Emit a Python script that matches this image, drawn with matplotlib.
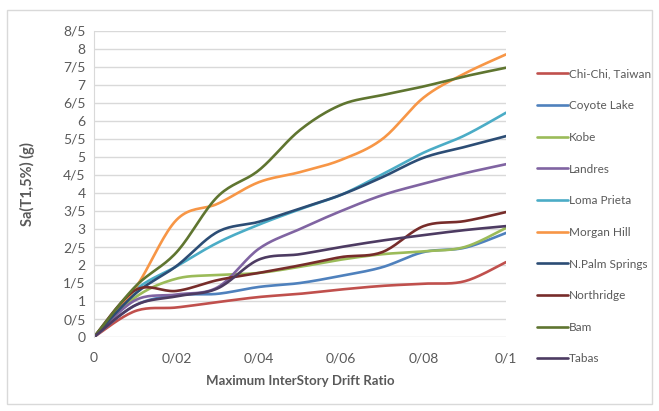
import numpy as np
import matplotlib.pyplot as plt
from matplotlib.patches import Rectangle

# drift ratio steps
drift = [0, 0.01, 0.02, 0.03, 0.04, 0.05, 0.06, 0.07, 0.08, 0.09, 0.1]

chichi = [0, 0.72, 0.82, 0.97, 1.11, 1.2, 1.32, 1.42, 1.48, 1.55, 2.08]
coyote = [0, 0.88, 1.16, 1.2, 1.39, 1.5, 1.7, 1.94, 2.36, 2.48, 2.89]
kobe = [0, 1.1, 1.62, 1.72, 1.78, 1.95, 2.15, 2.3, 2.38, 2.5, 3.03]
landres = [0, 1.02, 1.18, 1.38, 2.45, 3.0, 3.5, 3.94, 4.26, 4.55, 4.8]
loma = [0, 1.3, 1.96, 2.62, 3.12, 3.55, 3.95, 4.52, 5.12, 5.6, 6.23]
morgan = [0, 1.35, 3.25, 3.7, 4.3, 4.58, 4.92, 5.5, 6.65, 7.32, 7.85]
palm = [0, 1.2, 1.97, 2.92, 3.2, 3.57, 3.95, 4.44, 4.98, 5.28, 5.58]
northridge = [0, 1.3, 1.28, 1.58, 1.78, 1.99, 2.22, 2.36, 3.08, 3.22, 3.47]
bam = [0, 1.4, 2.35, 3.9, 4.63, 5.75, 6.45, 6.72, 6.96, 7.24, 7.48]
tabas = [0, 0.88, 1.13, 1.35, 2.15, 2.3, 2.5, 2.68, 2.83, 2.97, 3.08]

names = ['Chi-Chi, Taiwan', 'Coyote Lake', 'Kobe', 'Landres', 'Loma Prieta',
         'Morgan Hill', 'N.Palm Springs', 'Northridge', 'Bam', 'Tabas']
series = [chichi, coyote, kobe, landres, loma, morgan, palm, northridge, bam, tabas]
colors = ['#C0504D', '#4F81BD', '#9BBB59', '#8064A2', '#4BACC6',
          '#F79646', '#2C4D75', '#772C2A', '#5F7530', '#4D3B62']

xticks = [0, 0.02, 0.04, 0.06, 0.08, 0.1]
yticks = [i * 0.5 for i in range(18)]


def smooth(x, y, n=20):
    # excel style smoothed line (bezier through the points)
    x = np.asarray(x, float)
    y = np.asarray(y, float)
    px = np.concatenate([[x[0]], x, [x[-1]]])
    py = np.concatenate([[y[0]], y, [y[-1]]])
    xs, ys = [], []
    t = np.linspace(0, 1, n)
    for i in range(1, len(px) - 2):
        p0 = np.array([px[i], py[i]])
        p3 = np.array([px[i + 1], py[i + 1]])
        p1 = p0 + (np.array([px[i + 1], py[i + 1]]) - np.array([px[i - 1], py[i - 1]])) / 6
        p2 = p3 - (np.array([px[i + 2], py[i + 2]]) - np.array([px[i], py[i]])) / 6
        b = ((1 - t) ** 3)[:, None] * p0 + (3 * (1 - t) ** 2 * t)[:, None] * p1 \
            + (3 * (1 - t) * t ** 2)[:, None] * p2 + (t ** 3)[:, None] * p3
        xs.extend(b[:, 0])
        ys.extend(b[:, 1])
    return xs, ys


plt.rcParams['font.family'] = ['Lato', 'DejaVu Sans']

fig = plt.figure(figsize=(6.59, 4.11), dpi=100)
fig.patches.append(Rectangle((7 / 659, 1 - 404 / 411), 645 / 659, 394 / 411,
                             transform=fig.transFigure, fill=False,
                             edgecolor='#D9D9D9', linewidth=1))
ax = fig.add_axes([94 / 659, 1 - 337 / 411, 412 / 659, 306 / 411])

for name, vals, c in zip(names, series, colors):
    sx, sy = smooth(drift, vals)
    ax.plot(sx, sy, color=c, linewidth=1.9, label=name, solid_capstyle='round')

ax.set_xlim(0, 0.1)
ax.set_ylim(0, 8.5)
ax.set_xticks(xticks)
ax.set_xticklabels(['0', '0/02', '0/04', '0/06', '0/08', '0/1'])
ax.set_yticks(yticks)
ax.set_yticklabels([('%g' % v).replace('.', '/') for v in yticks])
ax.grid(axis='y', color='#D9D9D9', linewidth=1)
ax.set_axisbelow(True)
for s in ['top', 'right', 'bottom']:
    ax.spines[s].set_visible(False)
ax.spines['left'].set_color('#D9D9D9')
ax.tick_params(length=0, labelsize=10, colors='#595959')
ax.tick_params(axis='x', pad=11)
ax.tick_params(axis='y', pad=6)

ax.set_xlabel('Maximum InterStory Drift Ratio', fontsize=9.5, fontweight='bold',
              color='#595959', labelpad=8)
ax.set_ylabel('Sa(T1,5%) (g)', fontsize=10.5, fontweight='bold', color='#595959',
              labelpad=20)

ax.legend(loc='upper left', bbox_to_anchor=(1.05, 0.912), frameon=False,
          fontsize=8.5, handlelength=2.6, handletextpad=0.1,
          labelspacing=1.75, labelcolor='#595959')

fig.savefig('out.png', dpi=100)
